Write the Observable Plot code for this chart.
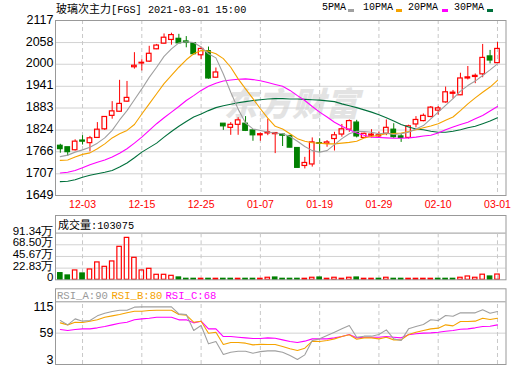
<!DOCTYPE html>
<html><head><meta charset="utf-8">
<script src="https://cdn.jsdelivr.net/npm/d3@7"></script>
<script src="https://cdn.jsdelivr.net/npm/@observablehq/plot@0.6"></script>
<style>
body{margin:0;background:#fff;}
#wrap{position:relative;width:520px;height:365px;overflow:hidden;background:#fff;}
.t{position:absolute;white-space:nowrap;line-height:12px;color:#000;}
.cjk{font-family:"Noto Sans CJK SC",sans-serif;font-size:11px;}
.mono{font-family:"Liberation Mono",monospace;font-size:10.25px;}
.sw{position:absolute;width:6px;height:3px;}
#wm{position:absolute;left:224px;top:78px;font-family:"Noto Sans CJK SC";font-weight:900;font-size:33px;color:#e3e3e3;font-style:italic;letter-spacing:1px;}
</style></head><body><div id="wrap">
<div id="wm">东方财富</div>
<div class="t" style="left:56px;top:2px;"><span class="cjk">玻璃次主力</span><span class="mono">[FGS] 2021-03-01 15:00</span></div>
<div class="t mono" style="left:322px;top:2px;font-size:10px;">5PMA</div><div class="sw" style="left:348px;top:9px;background:#a0a0a0"></div>
<div class="t mono" style="left:363px;top:2px;font-size:10px;">10PMA</div><div class="sw" style="left:396px;top:9px;background:#f5a300"></div>
<div class="t mono" style="left:408px;top:2px;font-size:10px;">20PMA</div><div class="sw" style="left:442px;top:9px;background:#ff00ff"></div>
<div class="t mono" style="left:454px;top:2px;font-size:10px;">30PMA</div><div class="sw" style="left:487px;top:9px;background:#00703c"></div>
<div class="t" style="left:58px;top:218px;"><span class="cjk">成交量</span><span class="mono">:103075</span></div>
<div class="t mono" style="left:57px;top:290px;font-size:10.6px;color:#999">RSI_A:90</div>
<div class="t mono" style="left:111.5px;top:290px;font-size:10.6px;color:#f5a300">RSI_B:80</div>
<div class="t mono" style="left:165.5px;top:290px;font-size:10.6px;color:#ff00ff">RSI_C:68</div>
</div>
<script>
const dates = ["11-30","12-01","12-02","12-03","12-04","12-07","12-08","12-09","12-10","12-11","12-14","12-15","12-16","12-17","12-18","12-21","12-22","12-23","12-24","12-25","12-28","12-29","12-30","12-31","01-04","01-05","01-06","01-07","01-08","01-11","01-12","01-13","01-14","01-15","01-18","01-19","01-20","01-21","01-22","01-25","01-26","01-27","01-28","01-29","02-01","02-02","02-03","02-04","02-05","02-08","02-09","02-10","02-18","02-19","02-22","02-23","02-24","02-25","02-26","03-01"];
const open  = [1782,1778,1770,1796,1789,1803,1826,1862,1873,1900,1992,2002,2007,2040,2055,2065,2068,2061,2056,2024,2035,1964,1841,1830,1838,1841,1823,1810,1815,1813,1812,1808,1776,1728,1732,1789,1787,1800,1812,1825,1844,1803,1809,1807,1814,1825,1807,1803,1839,1848,1859,1876,1898,1921,1917,1962,1966,1973,2021,2003];
const high  = [1786,1778,1798,1809,1807,1844,1860,1900,1957,1954,2031,2012,2048,2053,2081,2083,2080,2074,2058,2046,2046,1990,1841,1844,1857,1860,1825,1816,1853,1817,1814,1810,1777,1751,1803,1801,1796,1818,1839,1851,1850,1816,1825,1819,1851,1841,1814,1837,1860,1867,1887,1887,1939,1930,1976,1994,1974,2053,2037,2058];
const low   = [1762,1754,1768,1784,1766,1802,1823,1853,1872,1898,1987,1982,2005,2039,2054,2051,2055,2044,2024,2012,1960,1963,1823,1810,1810,1820,1794,1794,1809,1761,1780,1776,1722,1720,1725,1763,1778,1768,1805,1818,1803,1803,1803,1803,1809,1802,1791,1800,1830,1846,1857,1864,1896,1907,1916,1958,1948,1964,2001,2003];
const close = [1773,1765,1793,1793,1802,1825,1859,1874,1894,1910,1996,2004,2028,2050,2071,2078,2056,2057,2027,2041,1962,1978,1834,1838,1850,1822,1810,1813,1818,1816,1809,1777,1723,1736,1791,1787,1791,1810,1826,1848,1807,1814,1812,1810,1830,1805,1803,1834,1851,1862,1884,1882,1925,1924,1962,1965,1969,2017,2010,2041];
const ma5  = [1753,1757,1765,1771,1778,1789,1803,1823,1851,1876,1905,1934,1965,1992,2021,2041,2057,2060,2058,2046,2028,2017,1974,1925,1880,1843,1827,1823,1819,1816,1814,1807,1794,1780,1769,1765,1769,1785,1801,1814,1821,1820,1818,1814,1816,1812,1814,1818,1827,1836,1854,1872,1890,1908,1928,1943,1955,1970,1985,2001];
const ma10 = [1743,1744,1752,1759,1763,1774,1787,1803,1814,1823,1839,1867,1894,1921,1948,1970,1992,2012,2028,2037,2035,2028,2015,1992,1961,1934,1908,1881,1856,1834,1827,1814,1801,1794,1790,1789,1787,1787,1789,1791,1794,1803,1807,1810,1814,1815,1816,1820,1825,1830,1835,1841,1850,1859,1876,1894,1910,1925,1939,1957];
const ma20 = [1709,1711,1716,1723,1731,1738,1744,1752,1762,1774,1789,1805,1823,1841,1857,1872,1887,1903,1916,1930,1941,1949,1955,1958,1960,1961,1959,1956,1951,1946,1941,1930,1916,1903,1887,1872,1859,1845,1834,1825,1816,1810,1805,1804,1803,1802,1802,1803,1805,1808,1810,1816,1825,1832,1839,1845,1854,1863,1875,1887];
const ma30 = [1686,1687,1691,1698,1703,1707,1711,1716,1725,1736,1750,1765,1777,1789,1805,1820,1834,1847,1859,1867,1876,1884,1889,1893,1897,1900,1903,1905,1907,1908,1908,1907,1907,1906,1905,1904,1902,1900,1894,1889,1884,1878,1872,1865,1857,1848,1839,1832,1827,1825,1821,1818,1818,1821,1825,1830,1834,1841,1848,1857];
const volume = [13,8.5,18.3,12.4,20.2,34,25.4,35.9,64.5,82,43,18.3,21.5,9.8,9.8,7.8,4.6,2,2,2,2,2,2,2,2,2,2,2,4,4.5,2,2,2,2,4,4.5,2,4,2,4,4.5,2,2,2,4,2,2,2,2,2,2,2,2,2,4,6.5,4,10,6.5,10.31];
const volDir = ["g","g","r","g","r","r","r","r","r","r","r","r","r","r","r","r","g","g","g","r","g","r","g","g","r","g","g","r","r","g","g","g","g","r","r","g","r","r","r","r","g","r","r","g","r","g","g","r","r","r","r","g","g","g","r","r","r","r","g","r"];
const rsiA = [81.6,73.8,84.5,80.4,81.6,89.9,94.7,97.6,100,100,105.4,106,106,106,106,106,93.5,92.3,63.7,72.6,39.9,44,20.8,25,26.8,26.8,23.2,26,27.4,27.4,25,19.1,11.9,20.2,45.8,48.8,54.8,60.7,66.7,72.6,51.8,53.6,53.6,56.6,64.9,48.8,45.8,66.7,70.8,74.4,82.8,81.6,90.5,89.3,95.3,95.3,95.3,100.6,94.7,97.6];
const rsiB = [77.4,73.8,78.6,78,80.4,82.8,87.5,89.9,92.3,95.3,98.2,98.2,99.4,100,100,100,92.3,91.1,78.6,80.4,58.9,60.7,38.7,42.3,42.3,41.1,38.1,39,38.7,38.7,35.1,31,28,32.2,44.7,44.1,45.8,48.8,53,56,48.2,50.6,50.6,48.8,51.8,47,47,56.6,60.7,63.7,66.7,67.9,73.8,72,79.8,79.8,80.4,85.7,83.3,85.7];
const rsiC = [65.5,63.7,65.5,66.7,66.7,68.5,70.8,73.8,76.8,78.6,82.8,84.5,85.7,87.5,87.5,87.5,82.8,82.8,77.4,80.4,66.7,66.7,53,53,51.8,50.6,49.4,49.4,50.6,50,47,44.1,42.3,44.7,48.8,48.8,48.8,50.6,53,56.6,50.6,51.8,51.8,51.8,53,51.8,50.6,56,57.8,59,59.5,60.7,62.5,63.7,66.1,66.7,68.5,70.8,71.4,73.8];
const priceTicks = [1649,1707,1766,1824,1883,1941,2000,2058,2117];
const volTicks = [0,22.83,45.67,68.50,91.34];
const volTickLabels = ["0","22.83万","45.67万","68.50万","91.34万"];
const rsiTicks = [3,59,115];
const dateTicks = ["12-03","12-15","12-25","01-07","01-19","01-29","02-10","03-01"];

const RED="#ff0000", GREEN="#008000", GRAYMA="#a0a0a0", ORANGE="#f5a300", MAG="#ff00ff", DKGREEN="#00703c";
const FRAME="#999", GRID="#d2d2d2", VGRID="#c8c8c8";

const rows = dates.map((d,i)=>({i, date:d, open:open[i], high:high[i], low:low[i], close:close[i],
  ma5:ma5[i], ma10:ma10[i], ma20:ma20[i], ma30:ma30[i], vol:volume[i], vdir:volDir[i],
  rsiA:rsiA[i], rsiB:rsiB[i], rsiC:rsiC[i], up: close[i] >= open[i]}));
const tickIdx = dateTicks.map(d=>dates.indexOf(d));
const W=520, H=365, ML=55, MR=14.5;
const xs = {type:"linear", domain:[-0.65, 60.15], axis:null, label:null};
const baseStyle = {background:"transparent", fontFamily:"'Liberation Sans',Arial,sans-serif", fontSize:"12.5px", color:"#000", overflow:"visible"};
const vgrid = () => Plot.gridX(tickIdx, {stroke:VGRID, strokeOpacity:1, strokeDasharray:"4,3"});
const fmt = d => String(d);

// main price chart: plot area y 20..195
const main = Plot.plot({
  width:W, height:H, marginLeft:ML, marginRight:MR, marginTop:20, marginBottom:H-195,
  style:baseStyle, x:{...xs, axis:undefined}, y:{domain:[1649,2117], label:null},
  marks:[
    Plot.gridY(priceTicks, {stroke:GRID, strokeOpacity:1}),
    vgrid(),
    Plot.ruleX(rows, {x:"i", y1:"high", y2:d=>Math.max(d.open,d.close), stroke:d=>d.up?RED:GREEN}),
    Plot.ruleX(rows, {x:"i", y1:d=>Math.min(d.open,d.close), y2:"low", stroke:d=>d.up?RED:GREEN}),
    Plot.rect(rows, {x1:d=>d.i-0.31, x2:d=>d.i+0.31, y1:"open", y2:"close",
      fill:d=>d.up?"none":GREEN, stroke:d=>d.up?RED:GREEN, strokeWidth:1.2}),
    Plot.line(rows, {x:"i", y:"ma30", stroke:DKGREEN, strokeWidth:1.1}),
    Plot.line(rows, {x:"i", y:"ma20", stroke:MAG, strokeWidth:1.1}),
    Plot.line(rows, {x:"i", y:"ma10", stroke:ORANGE, strokeWidth:1.1}),
    Plot.line(rows, {x:"i", y:"ma5", stroke:GRAYMA, strokeWidth:1.1}),
    Plot.axisY(priceTicks, {tickSize:0, tickPadding:2, dy:-1, fill:"#000", tickFormat:fmt, label:null}),
    Plot.axisX(tickIdx, {tickSize:0, tickPadding:5, tickFormat:i=>dates[i], fill:RED, fontSize:10.5, label:null}),
    Plot.frame({stroke:FRAME})
  ]
});

// volume panel: box 215..279.3, header separator at 91.34 (y=232.6)
const volTop = 91.34*(279.3-215)/(279.3-232.6);
const vol = Plot.plot({
  width:W, height:H, marginLeft:ML, marginRight:MR, marginTop:215, marginBottom:H-279.3,
  style:baseStyle, x:xs, y:{domain:[0, volTop], label:null},
  marks:[
    Plot.gridY(volTicks.slice(1,4), {stroke:GRID, strokeOpacity:1}),
    Plot.gridY([volTicks[4]], {stroke:FRAME, strokeOpacity:1}),
    Plot.gridX(tickIdx, {stroke:VGRID, strokeOpacity:1, strokeDasharray:"4,3", y1:0, y2:volTicks[4]}),
    Plot.rectY(rows, {x1:d=>d.i-0.3, x2:d=>d.i+0.3, y:"vol",
      fill:d=>d.vdir==="r"?"none":GREEN, stroke:d=>d.vdir==="r"?RED:GREEN, strokeWidth:1.2}),
    Plot.axisY(volTicks, {tickSize:0, tickPadding:2, dy:-2, fill:"#000", fontSize:11.5, tickFormat:(v,k)=>volTickLabels[k], label:null}),
    Plot.frame({stroke:FRAME})
  ]
});

// RSI panel: box 288.3..364, header separator at 115 (y=301.3)
const rsiTopV = 3 + 112*(364-288.3)/(364-301.3);
const rsi = Plot.plot({
  width:W, height:H, marginLeft:ML, marginRight:MR, marginTop:288.3, marginBottom:H-364,
  style:baseStyle, x:xs, y:{domain:[3, rsiTopV], label:null},
  marks:[
    Plot.gridY([rsiTicks[1]], {stroke:GRID, strokeOpacity:1}),
    Plot.gridY([rsiTicks[2]], {stroke:FRAME, strokeOpacity:1}),
    Plot.gridX(tickIdx, {stroke:VGRID, strokeOpacity:1, strokeDasharray:"4,3", y1:3, y2:rsiTicks[2]}),
    Plot.line(rows, {x:"i", y:"rsiC", stroke:MAG, strokeWidth:1.1}),
    Plot.line(rows, {x:"i", y:"rsiB", stroke:ORANGE, strokeWidth:1.1}),
    Plot.line(rows, {x:"i", y:"rsiA", stroke:GRAYMA, strokeWidth:1.1}),
    Plot.axisY([rsiTicks[2]], {tickSize:0, tickPadding:2, dy:5, fill:"#000", tickFormat:fmt, label:null}),
    Plot.axisY([rsiTicks[1]], {tickSize:0, tickPadding:2, dy:0, fill:"#000", tickFormat:fmt, label:null}),
    Plot.axisY([rsiTicks[0]], {tickSize:0, tickPadding:2, dy:-5, fill:"#000", tickFormat:fmt, label:null}),
    Plot.frame({stroke:FRAME})
  ]
});

const wrap = document.getElementById("wrap");
for (const s of [main, vol, rsi]) {
  s.style.position = "absolute"; s.style.left = "0px"; s.style.top = "0px";
  wrap.appendChild(s);
}
</script>
</body></html>
